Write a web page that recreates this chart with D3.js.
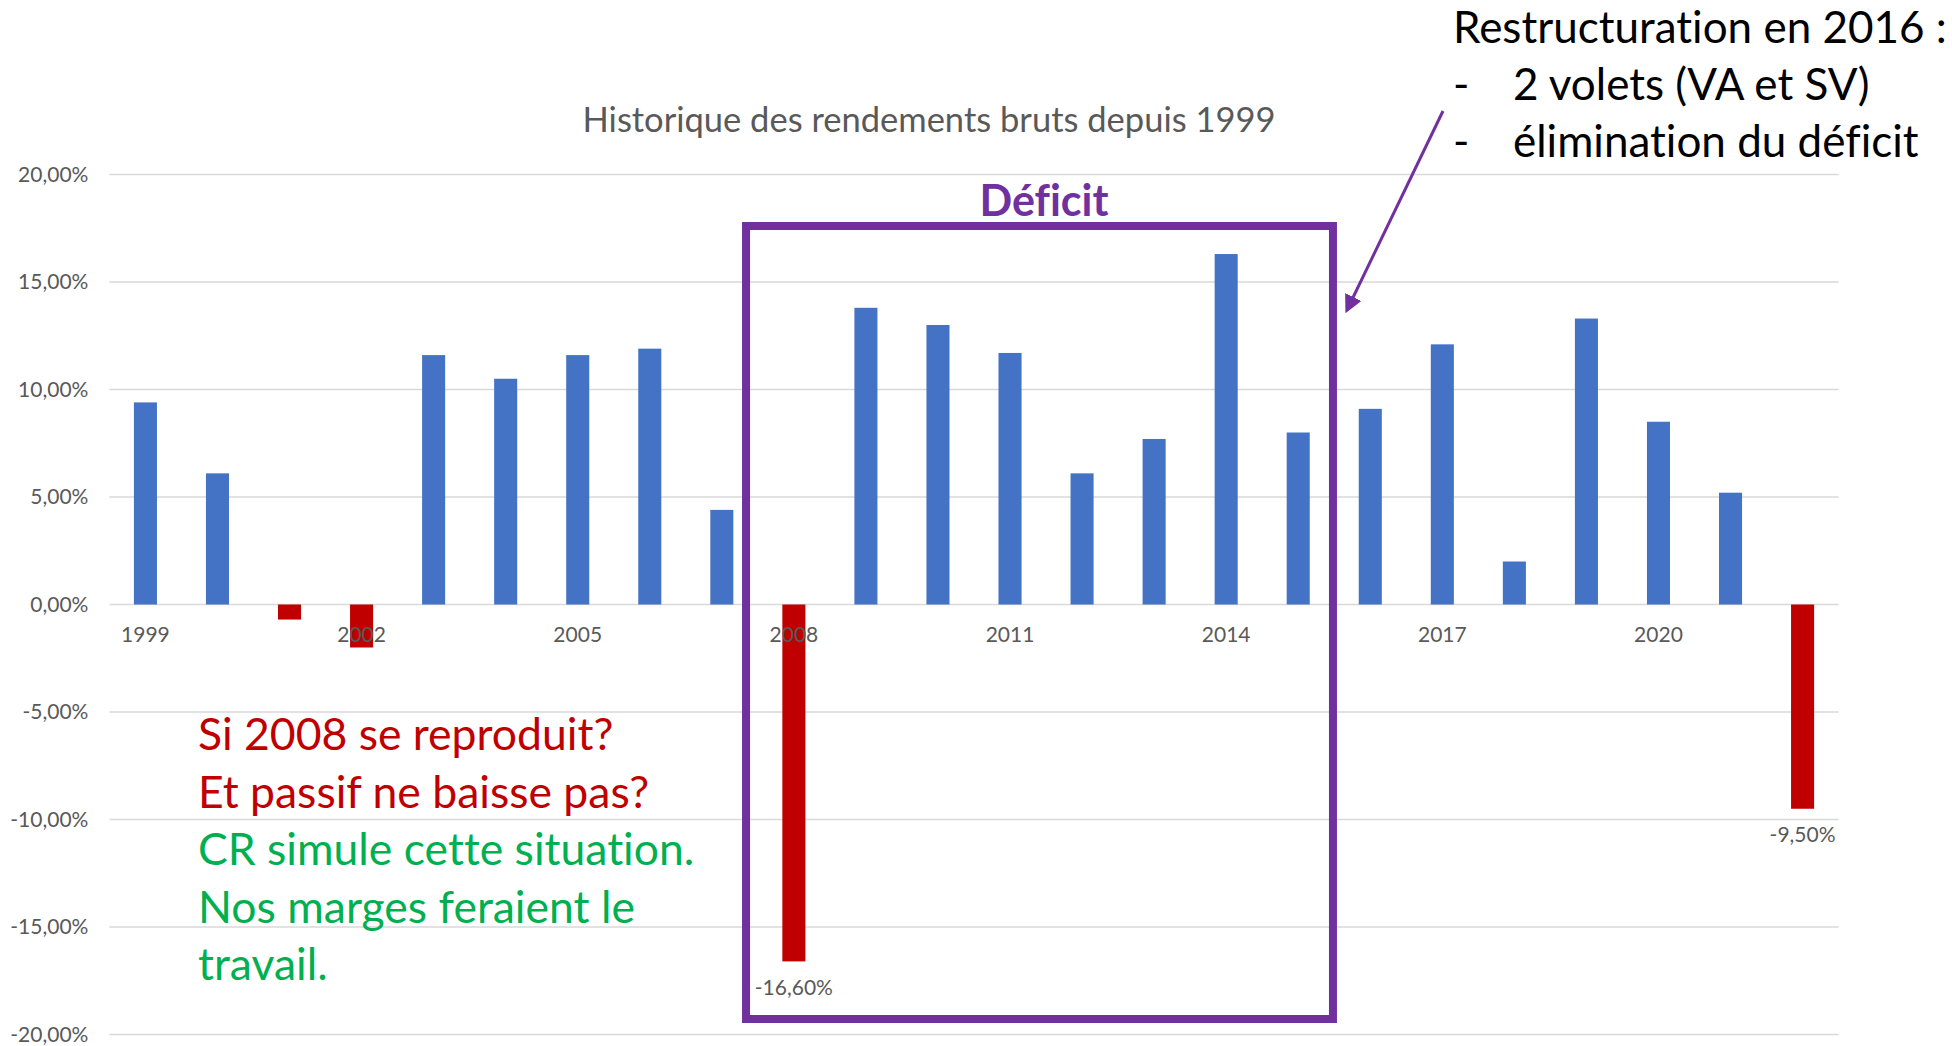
<!DOCTYPE html>
<html>
<head>
<meta charset="utf-8">
<script src="https://cdn.jsdelivr.net/npm/d3@7"></script>
<style>
  html, body { margin: 0; padding: 0; background: #fff; }
  svg { display: block; font-family: Lato, "Noto Sans", sans-serif; font-variant-ligatures: none; }
</style>
</head>
<body>
<svg id="chart"></svg>
<script>
// rendements bruts annuels, en %
const years = [1999, 2000, 2001, 2002, 2003, 2004, 2005, 2006, 2007, 2008, 2009, 2010,
  2011, 2012, 2013, 2014, 2015, 2016, 2017, 2018, 2019, 2020, 2021, 2022];
const returns = [9.4, 6.1, -0.7, -2.0, 11.6, 10.5, 11.6, 11.9, 4.4, -16.6, 13.8, 13.0,
  11.7, 6.1, 7.7, 16.3, 8.0, 9.1, 12.1, 2.0, 13.3, 8.5, 5.2, -9.5];
const yTicks = [-20, -15, -10, -5, 0, 5, 10, 15, 20];
const xTickYears = [1999, 2002, 2005, 2008, 2011, 2014, 2017, 2020];
const labelledYears = [2008, 2022];
const deficitYears = [2008, 2015];

const title = "Historique des rendements bruts depuis 1999";
const noteRed = ["Si 2008 se reproduit?", "Et passif ne baisse pas?"];
const noteGreen = ["CR simule cette situation.", "Nos marges feraient le", "travail."];
const restructLines = ["2 volets (VA et SV)", "élimination du déficit"];

const W = 1952, H = 1046;
const margin = { top: 174.5, right: W - 1838.6, bottom: H - 1034.5, left: 109.4 };

const blue = "#4472C4", red = "#C00000", purple = "#7030A0", green = "#00B050";
const grey = "#595959";

const data = years.map((y, i) => ({ year: y, value: returns[i] }));
const fr = d3.formatLocale({ decimal: ",", thousands: " ", grouping: [3], currency: ["", " €"], minus: "-" });
const pct = (v) => fr.format(".2f")(v) + "%";

const svg = d3.select("#chart").attr("width", W).attr("height", H);

const xScale = d3.scaleBand()
  .domain(years)
  .range([margin.left, W - margin.right])
  .paddingInner(0.68)
  .paddingOuter(0.34);
const yScale = d3.scaleLinear().domain([-20, 20]).range([H - margin.bottom, margin.top]);

// grid
svg.append("g")
  .selectAll("line")
  .data(yTicks)
  .join("line")
  .attr("x1", margin.left)
  .attr("x2", W - margin.right)
  .attr("y1", (d) => yScale(d))
  .attr("y2", (d) => yScale(d))
  .attr("stroke", "#D9D9D9")
  .attr("stroke-width", 1.6);

// y axis labels
const yAxis = svg.append("g")
  .attr("transform", `translate(${margin.left - 21}, 0)`)
  .call(d3.axisLeft(yScale).tickValues(yTicks).tickFormat(pct).tickSize(0).tickPadding(0));
yAxis.select(".domain").remove();
yAxis.selectAll("text")
  .attr("fill", grey)
  .style("font-family", "Lato, sans-serif")
  .style("font-size", "21px");

// bars
svg.append("g")
  .selectAll("rect")
  .data(data)
  .join("rect")
  .attr("x", (d) => xScale(d.year))
  .attr("width", xScale.bandwidth())
  .attr("y", (d) => yScale(Math.max(0, d.value)))
  .attr("height", (d) => Math.abs(yScale(d.value) - yScale(0)))
  .attr("fill", (d) => (d.value < 0 ? red : blue));

// x axis labels (every 3 years)
const xAxis = svg.append("g")
  .attr("transform", `translate(0, ${yScale(0) + 22})`)
  .call(d3.axisBottom(xScale).tickValues(xTickYears).tickSize(0).tickPadding(0));
xAxis.select(".domain").remove();
xAxis.selectAll("text")
  .attr("fill", grey)
  .attr("dy", "0.32em")
  .attr("y", 9)
  .style("font-family", "Lato, sans-serif")
  .style("font-size", "21px");

// data labels for 2008 and 2022
svg.append("g")
  .selectAll("text")
  .data(data.filter((d) => labelledYears.includes(d.year)))
  .join("text")
  .attr("x", (d) => xScale(d.year) + xScale.bandwidth() / 2)
  .attr("y", (d) => yScale(d.value) + 27)
  .attr("dy", "0.32em")
  .attr("text-anchor", "middle")
  .attr("fill", grey)
  .style("font-size", "21px")
  .text((d) => pct(d.value));

// chart title
svg.append("text")
  .attr("x", 929)
  .attr("y", 132)
  .attr("text-anchor", "middle")
  .attr("fill", grey)
  .style("font-size", "34.5px")
  .text(title);

// deficit box
const step = xScale.step();
const boxX0 = xScale(deficitYears[0]) - step * 0.504;
const boxX1 = xScale(deficitYears[1]) + xScale.bandwidth() + step * 0.322;
svg.append("rect")
  .attr("x", boxX0)
  .attr("y", 226)
  .attr("width", boxX1 - boxX0)
  .attr("height", 1019 - 226)
  .attr("fill", "none")
  .attr("stroke", purple)
  .attr("stroke-width", 8);

svg.append("text")
  .attr("x", 1044)
  .attr("y", 216)
  .attr("text-anchor", "middle")
  .attr("fill", purple)
  .style("font-size", "43px")
  .style("font-weight", "bold")
  .text("Déficit");

// arrow
svg.append("defs").append("marker")
  .attr("id", "head")
  .attr("viewBox", "0 0 10 10")
  .attr("refX", 8)
  .attr("refY", 5)
  .attr("markerWidth", 6)
  .attr("markerHeight", 6)
  .attr("orient", "auto")
  .append("path")
  .attr("d", "M0,0 L10,5 L0,10 z")
  .attr("fill", purple);

svg.append("line")
  .attr("x1", 1443)
  .attr("y1", 111)
  .attr("x2", 1347)
  .attr("y2", 310)
  .attr("stroke", purple)
  .attr("stroke-width", 3)
  .attr("marker-end", "url(#head)");

// restructuration note
const restruct = svg.append("g").attr("fill", "#000").style("font-size", "44px");
restruct.append("text").attr("x", 1453).attr("y", 43).text("Restructuration en 2016 :");
restructLines.forEach((t, i) => {
  restruct.append("text").attr("x", 1453).attr("y", 100 + i * 57).text("-");
  restruct.append("text").attr("x", 1513).attr("y", 100 + i * 57).text(t);
});

// 2008 scenario note
const note = svg.append("g").style("font-size", "44.5px");
noteRed.concat(noteGreen).forEach((t, i) => {
  note.append("text")
    .attr("x", 198)
    .attr("y", 750 + i * 57.5)
    .attr("fill", i < noteRed.length ? red : green)
    .text(t);
});
</script>
</body>
</html>
